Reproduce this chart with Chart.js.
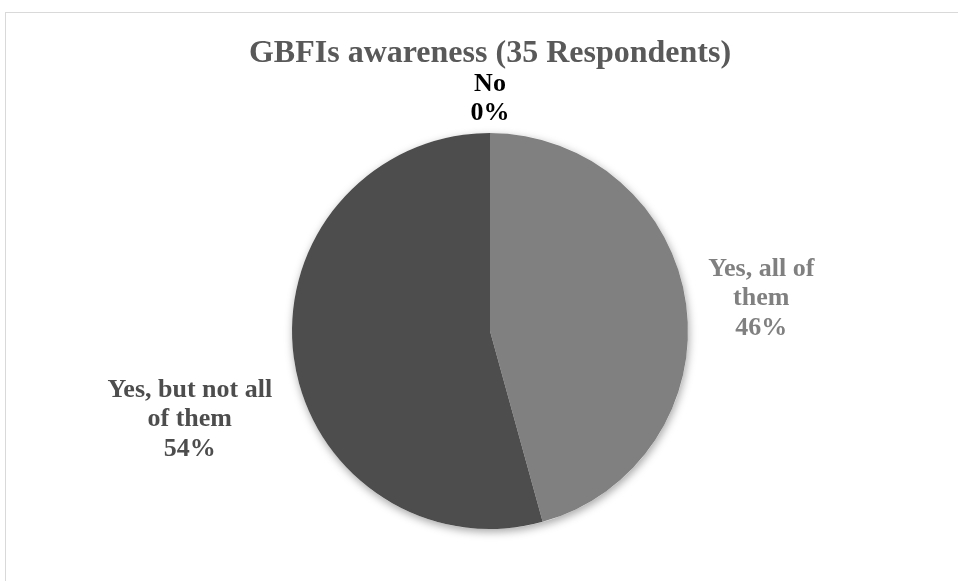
<!DOCTYPE html>
<html>
<head>
<meta charset="utf-8">
<script src="https://cdn.jsdelivr.net/npm/chart.js@4/dist/chart.umd.min.js"></script>
<style>
  html, body { margin: 0; padding: 0; background: #fff; }
  #wrap { position: relative; width: 958px; height: 581px; overflow: hidden; }
  #frame { position: absolute; left: 5px; top: 12px; width: 1000px; height: 600px; border: 1px solid #d9d9d9; }
  #pie { position: absolute; left: 0; top: 0; }
</style>
</head>
<body>
<div id="wrap">
  <div id="frame"></div>
  <canvas id="pie" width="958" height="581"></canvas>
</div>
<script>
const categories = ["Yes, all of them", "Yes, but not all of them", "No"];
const labelLines = [["Yes, all of", "them"], ["Yes, but not all", "of them"], ["No"]];
const respondents = [16, 19, 0];
const sliceColors = ["#808080", "#4d4d4d", "#000000"];
const labelColors = ["#808080", "#4d4d4d", "#000000"];

const serif = "'Liberation Serif', 'Times New Roman', serif";
const total = respondents.reduce((a, b) => a + b, 0);

// soft drop shadow behind the whole pie
const pieShadow = {
  id: "pieShadow",
  beforeDatasetsDraw(chart) {
    const arc = chart.getDatasetMeta(0).data[0];
    if (!arc) return;
    const ctx = chart.ctx;
    ctx.save();
    ctx.shadowColor = "rgba(0,0,0,0.35)";
    ctx.shadowBlur = 9;
    ctx.shadowOffsetX = 1;
    ctx.shadowOffsetY = 3;
    ctx.fillStyle = "#ffffff";
    ctx.beginPath();
    ctx.arc(arc.x, arc.y, arc.outerRadius, 0, Math.PI * 2);
    ctx.fill();
    ctx.restore();
  }
};

// category name + percentage next to each slice
const sliceLabels = {
  id: "sliceLabels",
  afterDatasetsDraw(chart, args, opts) {
    const ctx = chart.ctx;
    const meta = chart.getDatasetMeta(0);
    ctx.save();
    ctx.font = "bold " + opts.size + "px " + serif;
    ctx.textAlign = "center";
    ctx.textBaseline = "middle";
    meta.data.forEach((arc, i) => {
      const mid = (arc.startAngle + arc.endAngle) / 2;
      const ex = arc.x + Math.cos(mid) * arc.outerRadius;
      const ey = arc.y + Math.sin(mid) * arc.outerRadius;
      const off = opts.offsets[i];
      const pct = Math.round(respondents[i] / total * 100) + "%";
      const lines = labelLines[i].concat([pct]);
      const cx = ex + off.dx;
      const cy = ey + off.dy - (lines.length - 1) * opts.lineHeight / 2;
      ctx.fillStyle = labelColors[i];
      lines.forEach((t, k) => ctx.fillText(t, cx, cy + k * opts.lineHeight));
    });
    ctx.restore();
  }
};

new Chart(document.getElementById("pie"), {
  type: "pie",
  data: {
    labels: categories,
    datasets: [{
      data: respondents,
      backgroundColor: sliceColors,
      borderWidth: 0
    }]
  },
  options: {
    responsive: false,
    animation: false,
    layout: { padding: { left: 22, right: 0, top: 0, bottom: 52 } },
    plugins: {
      legend: { display: false },
      tooltip: { enabled: false },
      title: {
        display: true,
        text: "GBFIs awareness (35 Respondents)",
        color: "#595959",
        font: { family: serif, size: 32, weight: "bold" },
        padding: { top: 35, bottom: 59.6 }
      },
      sliceLabels: {
        size: 26,
        lineHeight: 29.5,
        offsets: [{ dx: 75, dy: -6 }, { dx: -104, dy: 62 }, { dx: 0, dy: -34 }]
      }
    }
  },
  plugins: [pieShadow, sliceLabels]
});
</script>
</body>
</html>
